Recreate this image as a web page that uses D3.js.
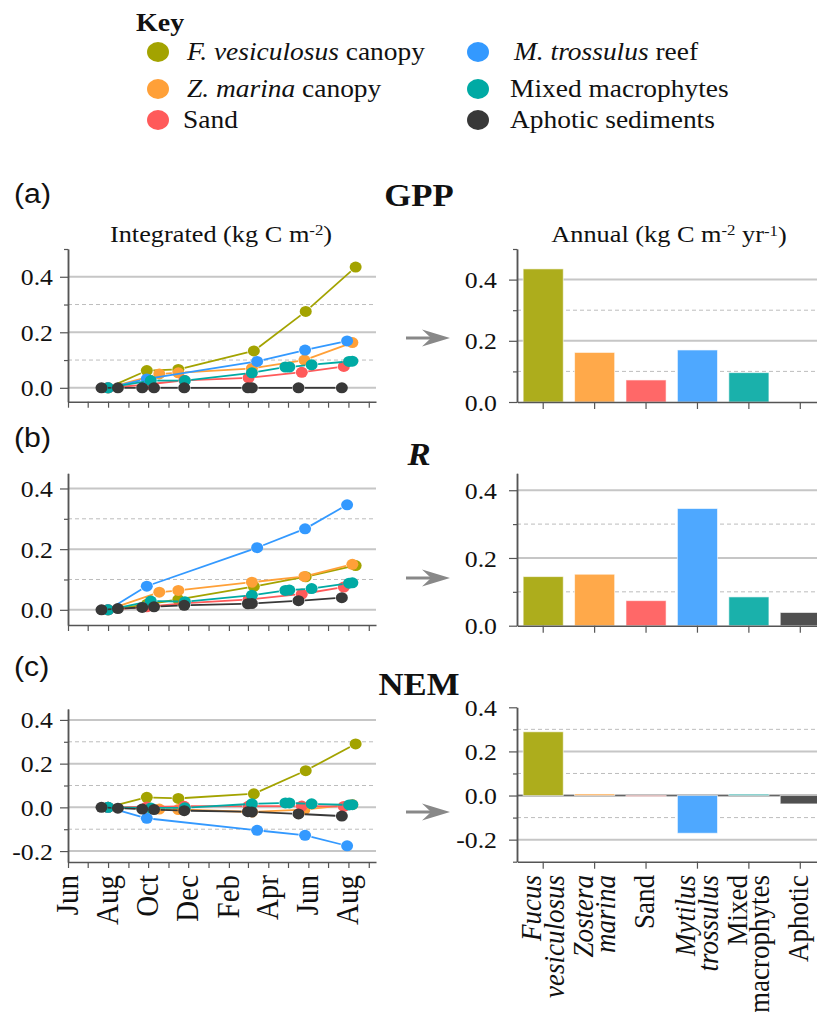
<!DOCTYPE html>
<html><head><meta charset="utf-8">
<script src="https://cdn.jsdelivr.net/npm/d3@7"></script>
<style>
body{margin:0;background:#fff}
svg{display:block}
text{font-family:"Liberation Serif","Times New Roman",serif;fill:#111}
</style>
</head><body><script>
// ---------------- DATA ----------------
const sites = ["Fucus vesiculosus","Zostera marina","Sand","Mytilus trossulus","Mixed macrophytes","Aphotic"];
const pointColors = ["#a3a300","#ffa038","#ff5a5a","#3399ff","#00aaa4","#383838"];
const barColors   = ["#adad1c","#ffa94a","#ff6868","#4ea8ff","#1ab1ab","#505050"];

const legendItalic = ["F. vesiculosus","Z. marina","","M. trossulus","",""];
const legendRest   = [" canopy"," canopy","Sand"," reef","Mixed macrophytes","Aphotic sediments"];

const catLine1 = ["Fucus","Zostera","Sand","Mytilus","Mixed","Aphotic"];
const catLine2 = ["vesiculosus","marina","","trossulus","macrophytes",""];
const catItalic = [true,true,false,true,false,false];

const monthLabels = ["Jun","Aug","Oct","Dec","Feb","Apr","Jun","Aug"];

// sampling dates and integrated values (kg C m-2)
const fucusDates = ["2015-08-01","2015-09-29","2015-11-16","2016-03-10","2016-05-28","2016-08-12"];
const fucusGPP = [0,0.062,0.066,0.133,0.275,0.435];
const fucusR   = [0,0.018,0.034,0.077,0.109,0.146];
const fucusNEM = [0,0.046,0.041,0.062,0.168,0.290];

const zosteraDates = ["2015-08-01","2015-10-18","2015-11-16","2016-03-07","2016-05-26","2016-08-07"];
const zosteraGPP = [0,0.050,0.054,0.070,0.100,0.163];
const zosteraR   = [0,0.058,0.064,0.091,0.110,0.150];
const zosteraNEM = [0,-0.008,-0.010,-0.021,-0.010,0.013];

const sandDates = ["2015-08-01","2015-09-29","2015-11-25","2016-03-02","2016-05-22","2016-07-25"];
const sandGPP = [0,0.012,0.027,0.036,0.056,0.077];
const sandR   = [0,0.010,0.022,0.034,0.052,0.075];
const sandNEM = [0,0.002,0.005,0.006,0.006,0.004];

const mytilusDates = ["2015-08-01","2015-09-29","2016-03-15","2016-05-27","2016-07-30"];
const mytilusGPP = [0,0.032,0.095,0.136,0.169];
const mytilusR   = [0,0.078,0.205,0.267,0.346];
const mytilusNEM = [0,-0.050,-0.105,-0.128,-0.176];

const mixedDates = ["2015-08-01","2015-10-05","2015-11-26","2016-03-07","2016-04-27","2016-05-03","2016-06-06","2016-08-02","2016-08-07"];
const mixedGPP = [0,0.026,0.026,0.054,0.075,0.075,0.083,0.095,0.096];
const mixedR   = [0,0.029,0.027,0.048,0.064,0.065,0.070,0.088,0.089];
const mixedNEM = [0,-0.003,-0.002,0.016,0.020,0.020,0.016,0.011,0.012];

const aphoticDates = ["2015-07-22","2015-08-16","2015-09-22","2015-10-10","2015-11-25","2016-03-01","2016-03-07","2016-05-17","2016-07-22"];
const aphoticGPP = [0,0,0,0,0,0,0,0,0];
const aphoticR   = [0,0.004,0.008,0.010,0.015,0.020,0.021,0.030,0.040];
const aphoticNEM = [0,-0.004,-0.008,-0.010,-0.015,-0.020,-0.021,-0.030,-0.040];

// annual values (kg C m-2 yr-1)
const annualGPP = [0.435,0.162,0.072,0.170,0.096,0];
const annualR   = [0.145,0.152,0.074,0.346,0.085,0.039];
const annualNEM = [0.289,0.007,-0.003,-0.171,0.006,-0.038];

// ---------------- BUILD ----------------
const parse = d3.timeParse("%Y-%m-%d");
const allDates = [fucusDates,zosteraDates,sandDates,mytilusDates,mixedDates,aphoticDates];
const gppVals = [fucusGPP,zosteraGPP,sandGPP,mytilusGPP,mixedGPP,aphoticGPP];
const rVals   = [fucusR,zosteraR,sandR,mytilusR,mixedR,aphoticR];
const nemVals = [fucusNEM,zosteraNEM,sandNEM,mytilusNEM,mixedNEM,aphoticNEM];
function mk(vals){ return vals.map((v,i)=>allDates[i].map((d,j)=>({date:parse(d),v:v[j]}))); }

const SERIF="'Liberation Serif','Times New Roman',serif";
const W=817,H=1012,SX=1.12;
const svg=d3.select("body").append("svg").attr("width",W).attr("height",H).style("font-family",SERIF);
svg.append("rect").attr("width",W).attr("height",H).attr("fill","#fff");

function sText(g,x,y,size,anchor){
  return g.append("text").attr("transform",`translate(${x},${y}) scale(${SX},1)`)
    .attr("text-anchor",anchor||"start").style("font-family",SERIF).style("font-size",size+"px");
}

// Legend
sText(svg,136,31,25).style("font-weight","bold").text("Key");
const legX=[158,478], legTX=[183,510], legY=[52,89,120], legBase=[60,97,128];
sites.forEach((s,i)=>{
  const c=Math.floor(i/3), r=i%3;
  svg.append("ellipse").attr("cx",legX[c]).attr("cy",legY[r]).attr("rx",11).attr("ry",10).attr("fill",pointColors[i]);
  const t=sText(svg,legTX[c]+(legendItalic[i]?4:0),legBase[r],24.5);
  if(legendItalic[i]) t.append("tspan").style("font-style","italic").text(legendItalic[i]);
  t.append("tspan").text(legendRest[i]);
});

const xT = d3.scaleTime().domain([new Date(2015,5,1),new Date(2016,8,12)]).range([68,376]);
const xB = d3.scaleBand().domain(sites).range([517.5,826]).paddingInner(0.22).paddingOuter(0.11);

const panels=[
  {lab:"(a)",labY:203,title:"GPP",titleY:206,it:false,ly:[-0.05,0.5],lr:[401.7,249],ry:[0,0.5],rr:[402,249],arrowY:338,series:mk(gppVals),bars:annualGPP},
  {lab:"(b)",labY:447,title:"R",titleY:465,it:true,ly:[-0.05,0.45],lr:[625,473.3],ry:[0,0.45],rr:[625.7,473.3],arrowY:578,series:mk(rVals),bars:annualR},
  {lab:"(c)",labY:676,title:"NEM",titleY:695,it:false,ly:[-0.25,0.45],lr:[862,709],ry:[-0.3,0.4],rr:[861.7,707.3],arrowY:812,series:mk(nemVals),bars:annualNEM}
];

function tickVals(dom){
  const out={major:[],minor:[]};
  for(let k=Math.ceil(dom[0]*10-1e-6);k<=Math.floor(dom[1]*10+1e-6);k++){
    const v=Math.round(k)/10;
    (k%2===0?out.major:out.minor).push(v);
  }
  return out;
}
function grid(g,y,dom,x0,x1){
  const tv=tickVals(dom);
  tv.major.concat(tv.minor).filter(v=>v>dom[0]+0.01&&v<dom[1]-0.01).forEach(v=>{
    const maj=tv.major.includes(v);
    g.append("line").attr("x1",x0).attr("x2",x1).attr("y1",y(v)).attr("y2",y(v))
     .attr("stroke",maj?"#c6c6c6":"#bdbdbd").attr("stroke-width",maj?2:1)
     .attr("stroke-dasharray",maj?null:"4,3");
  });
}
function yAxis(g,y,dom,x,gap){
  const tv=tickVals(dom);
  const a1=g.append("g").attr("transform",`translate(${x},0)`).call(d3.axisLeft(y).tickValues(tv.major).tickSize(8).tickSizeOuter(0).tickFormat(d3.format(".1f")));
  a1.attr("font-family",null);
  a1.selectAll(".tick text").attr("x",0).attr("dy","0.35em")
    .attr("transform",`translate(${-gap},0) scale(${SX},1)`)
    .style("font-size","23px").style("font-family",SERIF).attr("fill","#111")
    .text(d=>d3.format(".1f")(d).replace("−","-"));
  const a2=g.append("g").attr("transform",`translate(${x},0)`).call(d3.axisLeft(y).tickValues(tv.minor).tickSize(4).tickSizeOuter(0).tickFormat(""));
  [a1,a2].forEach(a=>{a.select(".domain").attr("stroke","#555").attr("stroke-width",1.5);a.selectAll(".tick line").attr("stroke","#555").attr("stroke-width",1.2);});
}

panels.forEach((p,pi)=>{
  const g=svg.append("g");
  // labels
  g.append("text").attr("transform",`translate(14,${p.labY}) scale(${SX},1)`).style("font-family","'Liberation Sans',Arial,sans-serif").style("font-size","27px").text(p.lab);
  const tt=sText(g,419,p.titleY,31,"middle").style("font-weight","bold").text(p.title);
  if(p.it) tt.style("font-style","italic");

  // ----- left: integrated
  const yL=d3.scaleLinear().domain(p.ly).range(p.lr);
  grid(g,yL,p.ly,68,376);
  if(pi===0){
    const t=sText(g,221,242,23.5,"middle");
    t.append("tspan").text("Integrated (kg C m");
    t.append("tspan").attr("dy","-0.45em").style("font-size","15px").text("-2");
    t.append("tspan").attr("dy","0.3em").text(")");
    const t2=sText(g,669,242,23.5,"middle");
    t2.append("tspan").text("Annual (kg C m");
    t2.append("tspan").attr("dy","-0.45em").style("font-size","15px").text("-2");
    t2.append("tspan").attr("dy","0.3em").text(" yr");
    t2.append("tspan").attr("dy","-0.45em").style("font-size","15px").text("-1");
    t2.append("tspan").attr("dy","0.3em").text(")");
  }
  // x axis
  const months=d3.timeMonth.range(new Date(2015,5,1),new Date(2016,8,2));
  const xa=g.append("g").attr("transform",`translate(0,${p.lr[0]})`).call(d3.axisBottom(xT).tickValues(months).tickSize(6).tickSizeOuter(0).tickFormat(""));
  xa.select(".domain").attr("stroke","#555").attr("stroke-width",1.5);
  xa.selectAll(".tick line").attr("stroke","#555").attr("stroke-width",1.2);
  if(pi===2){
    months.filter((m,i)=>i%2===0).forEach((m,i)=>{
      g.append("text").attr("transform",`translate(${xT(m)+10},875) scale(${SX},1) rotate(-90)`)
       .attr("text-anchor","end").style("font-family",SERIF).style("font-size","29px").text(monthLabels[i]);
    });
  }
  yAxis(g,yL,p.ly,68,15);

  // series lines with small gaps + points
  const gap=6.5;
  p.series.forEach((ser,si)=>{
    const pts=ser.map(d=>[xT(d.date),yL(d.v)]);
    for(let i=0;i<pts.length-1;i++){
      const [x1,y1]=pts[i],[x2,y2]=pts[i+1];
      const dx=x2-x1,dy=y2-y1,L=Math.hypot(dx,dy);
      if(L>2*gap){
        const ux=dx/L,uy=dy/L;
        g.append("line").attr("x1",x1+ux*gap).attr("y1",y1+uy*gap).attr("x2",x2-ux*gap).attr("y2",y2-uy*gap)
         .attr("stroke",pointColors[si]).attr("stroke-width",1.8);
      }
    }
    g.selectAll(null).data(ser).join("ellipse")
      .attr("cx",d=>xT(d.date)).attr("cy",d=>yL(d.v)).attr("rx",6).attr("ry",5.5)
      .attr("fill",pointColors[si]);
  });

  // arrow
  const ay=p.arrowY;
  g.append("line").attr("x1",406).attr("x2",436).attr("y1",ay).attr("y2",ay).attr("stroke","#888").attr("stroke-width",3);
  g.append("path").attr("d",`M450,${ay} L422,${ay-8.5} L431,${ay} L422,${ay+8.5} Z`).attr("fill","#888");

  // ----- right: annual bars
  const yR=d3.scaleLinear().domain(p.ry).range(p.rr);
  grid(g,yR,p.ry,517,817);
  if(p.ry[0]<0){
    g.append("line").attr("x1",517).attr("x2",817).attr("y1",yR(0)).attr("y2",yR(0)).attr("stroke","#666").attr("stroke-width",1.5);
  }
  g.selectAll(null).data(p.bars).join("rect")
    .attr("x",(d,i)=>xB(sites[i])).attr("width",xB.bandwidth())
    .attr("y",d=>yR(Math.max(0,d))).attr("height",d=>Math.max(0.8,Math.abs(yR(d)-yR(0))))
    .attr("fill",(d,i)=>barColors[i]).attr("stroke","#fff").attr("stroke-opacity",0.6).attr("stroke-width",1);
  const xa2=g.append("g").attr("transform",`translate(0,${p.rr[0]})`).call(d3.axisBottom(xB).tickSize(7).tickSizeOuter(0).tickFormat(""));
  xa2.select(".domain").attr("stroke","#555").attr("stroke-width",1.5);
  xa2.selectAll(".tick line").attr("stroke","#555").attr("stroke-width",1.2);
  yAxis(g,yR,p.ry,517,20);

  if(pi===2){
    sites.forEach((s,i)=>{
      const cx=xB(s)+xB.bandwidth()/2;
      const two=!!catLine2[i];
      const t=g.append("text").attr("transform",`translate(${cx+(two?-2:8)},875) scale(${SX},1) rotate(-90)`)
        .attr("text-anchor","end").style("font-family",SERIF).style("font-size","27px");
      if(catItalic[i]) t.style("font-style","italic");
      t.append("tspan").attr("x",0).text(catLine1[i]);
      if(two) t.append("tspan").attr("x",0).attr("dy",20).text(catLine2[i]);
    });
  }
});
</script></body></html>
